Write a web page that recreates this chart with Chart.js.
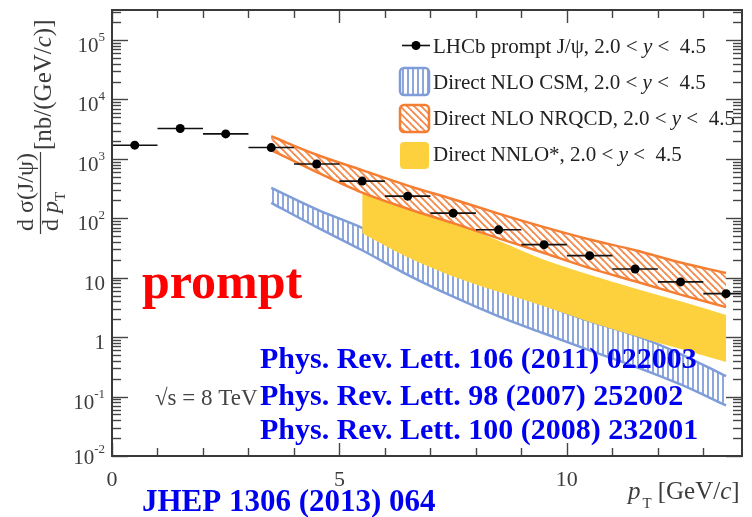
<!DOCTYPE html>
<html>
<head>
<meta charset="utf-8">
<script src="https://cdn.jsdelivr.net/npm/chart.js@4.4.1/dist/chart.umd.min.js"></script>
<style>
  body { margin: 0; background: #fff; }
  #jpsiChart { display: block; }
</style>
</head>
<body>
<canvas id="jpsiChart" width="752" height="517"></canvas>
<script>
// LHCb prompt J/psi, sqrt(s) = 8 TeV, 2.0 < y < 4.5
var binEdges   = [0, 1, 2, 3, 4, 5, 6, 7, 8, 9, 10, 11, 12, 13, 14];
var ptCentres  = [0.5, 1.5, 2.5, 3.5, 4.5, 5.5, 6.5, 7.5, 8.5, 9.5, 10.5, 11.5, 12.5, 13.5];
var dataXsec   = [1700, 3240, 2630, 1550, 820, 423, 236, 122, 64, 36, 23.5, 14, 8.5, 5.4];

// theory bands (upper / lower edge)
var theoryPt   = [3.5, 4.5, 5.5, 6.5, 7.5, 8.5, 9.5, 10.5, 11.5, 12.5, 13.5];
var nrqcdHigh  = [2400, 1175, 645, 355, 209, 120, 71, 44, 29, 18, 12];
var nrqcdLow   = [1410, 600, 270, 145, 83, 46, 26, 14.5, 8.7, 5.2, 3.2];
var csmHigh    = [324, 141, 69, 28, 12, 6.3, 3.5, 1.86, 1.07, 0.52, 0.22];
var csmLow     = [182, 71, 29, 11.2, 4.8, 2.24, 1.15, 0.6, 0.32, 0.16, 0.071];
var nnloPt     = [5.5, 6.5, 7.5, 8.5, 9.5, 10.5, 11.5, 12.5, 13.5];
var nnloHigh   = [280, 140, 83, 42, 20, 11.2, 6.6, 4.0, 2.35];
var nnloLow    = [56, 22, 10.5, 5.8, 3.3, 1.8, 1.05, 0.63, 0.38];

var xTickValues = [0, 5, 10];
var xTickLabels = ['0', '5', '10'];
var yDecades    = [-2, -1, 0, 1, 2, 3, 4, 5];

var legendLabels = [
  'LHCb prompt J/\u03c8, 2.0 < ',
  'Direct NLO CSM, 2.0 < ',
  'Direct NLO NRQCD, 2.0 < ',
  'Direct NNLO*, 2.0 < '
];
var refLines = [
  'Phys. Rev. Lett. 106 (2011) 022003',
  'Phys. Rev. Lett. 98 (2007) 252002',
  'Phys. Rev. Lett. 100 (2008) 232001'
];

var ORANGE = '#f47f33', ORANGE_HATCH = '#f38a4c';
var BLUE = '#7f9dd8', BLUE_HATCH = '#8ea8de';
var YELLOW = '#fdd13e';
var SERIF = '"Liberation Serif", "Times New Roman", serif';

function makeHatch(kind, color) {
  var c = document.createElement('canvas');
  var g = c.getContext('2d');
  if (kind === 'vertical') {
    c.width = 5; c.height = 5;
    g.fillStyle = '#fff'; g.fillRect(0, 0, 5, 5);
    g.fillStyle = color; g.fillRect(2, 0, 2, 5);
  } else {
    var s = 7;
    c.width = s; c.height = s;
    g.fillStyle = '#fff'; g.fillRect(0, 0, s, s);
    g.strokeStyle = color; g.lineWidth = 1.8;
    for (var k = -s; k <= s; k += s) {
      g.beginPath(); g.moveTo(-1, -1 + k); g.lineTo(s + 1, s + 1 + k); g.stroke();
    }
  }
  return g.createPattern(c, 'repeat');
}
var orangeHatch = makeHatch('diagonal', ORANGE_HATCH);
var blueHatch = makeHatch('vertical', BLUE_HATCH);

function pts(xs, ys) { return xs.map(function (x, i) { return { x: x, y: ys[i] }; }); }

function bandEdge(xs, ys, color, width, bg, fill, order) {
  return {
    data: pts(xs, ys), borderColor: color, borderWidth: width, backgroundColor: bg,
    fill: fill, pointRadius: 0, cubicInterpolationMode: 'monotone', order: order
  };
}

// draws rich text made of pieces with their own fonts / offsets
function drawParts(g, parts, x, y, align) {
  var total = 0;
  parts.forEach(function (p) { g.font = p.f; total += g.measureText(p.t).width + (p.gap || 0); });
  if (align === 'right') x -= total;
  if (align === 'center') x -= total / 2;
  parts.forEach(function (p) {
    g.font = p.f;
    g.fillText(p.t, x, y + (p.dy || 0));
    x += g.measureText(p.t).width + (p.gap || 0);
  });
}

var errorBars = {
  id: 'errorBars',
  beforeDatasetDraw: function (chart, args) {
    if (args.index !== 0) return;
    var g = chart.ctx, xs = chart.scales.x, ys = chart.scales.y, a = chart.chartArea;
    g.save();
    g.beginPath(); g.rect(a.left, a.top, a.right - a.left, a.bottom - a.top); g.clip();
    g.strokeStyle = '#111'; g.lineWidth = 1.6;
    dataXsec.forEach(function (v, i) {
      var py = ys.getPixelForValue(v);
      g.beginPath();
      g.moveTo(xs.getPixelForValue(binEdges[i]), py);
      g.lineTo(xs.getPixelForValue(binEdges[i + 1]), py);
      g.stroke();
    });
    g.restore();
  }
};

var frame = {
  id: 'frame',
  afterDraw: function (chart) {
    var g = chart.ctx, xs = chart.scales.x, ys = chart.scales.y, a = chart.chartArea;
    g.save();
    // ticks
    g.strokeStyle = '#444'; g.lineWidth = 1.4;
    function hLine(x0, x1, y) { g.beginPath(); g.moveTo(x0, y); g.lineTo(x1, y); g.stroke(); }
    function vLine(x, y0, y1) { g.beginPath(); g.moveTo(x, y0); g.lineTo(x, y1); g.stroke(); }
    yDecades.forEach(function (k) {
      for (var m = 1; m <= 9; m++) {
        var v = m * Math.pow(10, k);
        if (v > ys.max) break;
        var py = Math.round(ys.getPixelForValue(v)) + 0.5;
        var len = m === 1 ? 16 : 9;
        hLine(a.left, a.left + len, py);
        hLine(a.right - len, a.right, py);
      }
    });
    for (var t = 0; t <= 13; t++) {
      var px = Math.round(xs.getPixelForValue(t)) + 0.5;
      var len = t % 5 === 0 ? 13 : 8;
      vLine(px, a.bottom, a.bottom - len);
      vLine(px, a.top, a.top + len);
    }
    // box
    g.strokeStyle = '#3a3a3a'; g.lineWidth = 2;
    g.strokeRect(a.left, a.top, a.right - a.left, a.bottom - a.top);

    // tick labels
    g.fillStyle = '#3c3c3c'; g.textBaseline = 'alphabetic';
    var base = '21px ' + SERIF, sup = '13px ' + SERIF;
    yDecades.forEach(function (k) {
      var py = ys.getPixelForValue(Math.pow(10, k)) + (k === -2 ? 8 : 12);
      var parts;
      if (k === 0) parts = [{ t: '1', f: base }];
      else if (k === 1) parts = [{ t: '10', f: base }];
      else parts = [{ t: '10', f: base }, { t: String(k).replace('-', '\u2011'), f: sup, dy: -11 }];
      drawParts(g, parts, 105, py, 'right');
    });
    g.font = '22px ' + SERIF; g.textAlign = 'center';
    xTickValues.forEach(function (v, i) {
      g.fillText(xTickLabels[i], xs.getPixelForValue(v), 486);
    });
    g.textAlign = 'left';

    // x title
    drawParts(g, [
      { t: 'p', f: 'italic 25px ' + SERIF, gap: 2 },
      { t: 'T', f: '15px ' + SERIF, dy: 9, gap: 6 },
      { t: '[GeV/', f: '25px ' + SERIF },
      { t: 'c', f: 'italic 25px ' + SERIF },
      { t: ']', f: '25px ' + SERIF }
    ], 628, 499);

    // y title, rotated fraction
    var yf = '24px ' + SERIF;
    g.save(); g.translate(33, 231); g.rotate(-Math.PI / 2);
    drawParts(g, [{ t: 'd ', f: yf }, { t: '\u03c3(J/\u03c8)', f: yf }], 0, 0);
    g.restore();
    g.save(); g.translate(58, 231); g.rotate(-Math.PI / 2);
    drawParts(g, [{ t: 'd ', f: yf }, { t: 'p', f: 'italic ' + yf }, { t: 'T', f: '15px ' + SERIF, dy: 7 }], 0, 0);
    g.restore();
    g.strokeStyle = '#3c3c3c'; g.lineWidth = 1.2;
    vLine(40.5, 152, 234);
    g.save(); g.translate(51, 150); g.rotate(-Math.PI / 2);
    drawParts(g, [
      { t: '[nb/(GeV/', f: '25px ' + SERIF }, { t: 'c', f: 'italic 25px ' + SERIF }, { t: ')]', f: '25px ' + SERIF }
    ], 0, 0);
    g.restore();

    // sqrt(s)
    g.fillStyle = '#444';
    g.font = '23px ' + SERIF;
    g.fillText('\u221as = 8 TeV', 155, 405);

    // legend
    var lf = '21px ' + SERIF, lfi = 'italic 21px ' + SERIF;
    var baselines = [53, 89, 125, 161];
    g.fillStyle = '#222';
    legendLabels.forEach(function (txt, i) {
      drawParts(g, [{ t: txt, f: lf }, { t: 'y', f: lfi }, { t: ' <  4.5', f: lf }], 433, baselines[i]);
    });
    g.strokeStyle = '#111'; g.lineWidth = 1.6;
    hLine(402, 430, 45.5);
    g.fillStyle = '#000';
    g.beginPath(); g.arc(416, 45.5, 4.5, 0, Math.PI * 2); g.fill();
    function box(y0, fillStyle, stroke) {
      g.beginPath(); g.roundRect(400, y0, 29, 27, 4);
      g.fillStyle = fillStyle; g.fill();
      if (stroke) { g.strokeStyle = stroke; g.lineWidth = 2.5; g.stroke(); }
    }
    box(68, blueHatch, BLUE);
    box(105, orangeHatch, ORANGE);
    box(142, YELLOW, null);

    // annotations
    g.fillStyle = '#ff0000';
    g.font = 'bold 50px ' + SERIF;
    g.fillText('prompt', 142, 298);
    g.fillStyle = '#0000f0';
    g.font = 'bold 30px ' + SERIF;
    [368, 405, 439].forEach(function (yb, i) { g.fillText(refLines[i], 260, yb); });
    g.font = 'bold 31px ' + SERIF;
    g.fillText('JHEP 1306 (2013) 064', 142, 511);
    g.restore();
  }
};

new Chart(document.getElementById('jpsiChart'), {
  type: 'line',
  data: {
    datasets: [
      { data: pts(ptCentres, dataXsec), showLine: false, pointRadius: 4.5, pointBackgroundColor: '#000',
        pointBorderWidth: 0, order: 0 },
      bandEdge(theoryPt, nrqcdHigh, ORANGE, 2.5, orangeHatch, '+1', 2),
      bandEdge(theoryPt, nrqcdLow, ORANGE, 2.5, 'transparent', false, 1),
      bandEdge(nnloPt, nnloHigh, YELLOW, 0, YELLOW, '+1', 4),
      bandEdge(nnloPt, nnloLow, YELLOW, 0, 'transparent', false, 3),
      bandEdge(theoryPt, csmHigh, BLUE, 2.5, blueHatch, '+1', 6),
      bandEdge(theoryPt, csmLow, BLUE, 2.5, 'transparent', false, 5)
    ]
  },
  options: {
    responsive: false,
    animation: false,
    layout: { padding: { left: 112, top: 10, right: 10, bottom: 61 } },
    scales: {
      x: { type: 'linear', display: false, min: 0, max: 13.85 },
      y: { type: 'logarithmic', display: false, min: 0.01, max: 3.2e5 }
    },
    plugins: { legend: { display: false }, tooltip: { enabled: false } }
  },
  plugins: [errorBars, frame]
});
</script>
</body>
</html>
